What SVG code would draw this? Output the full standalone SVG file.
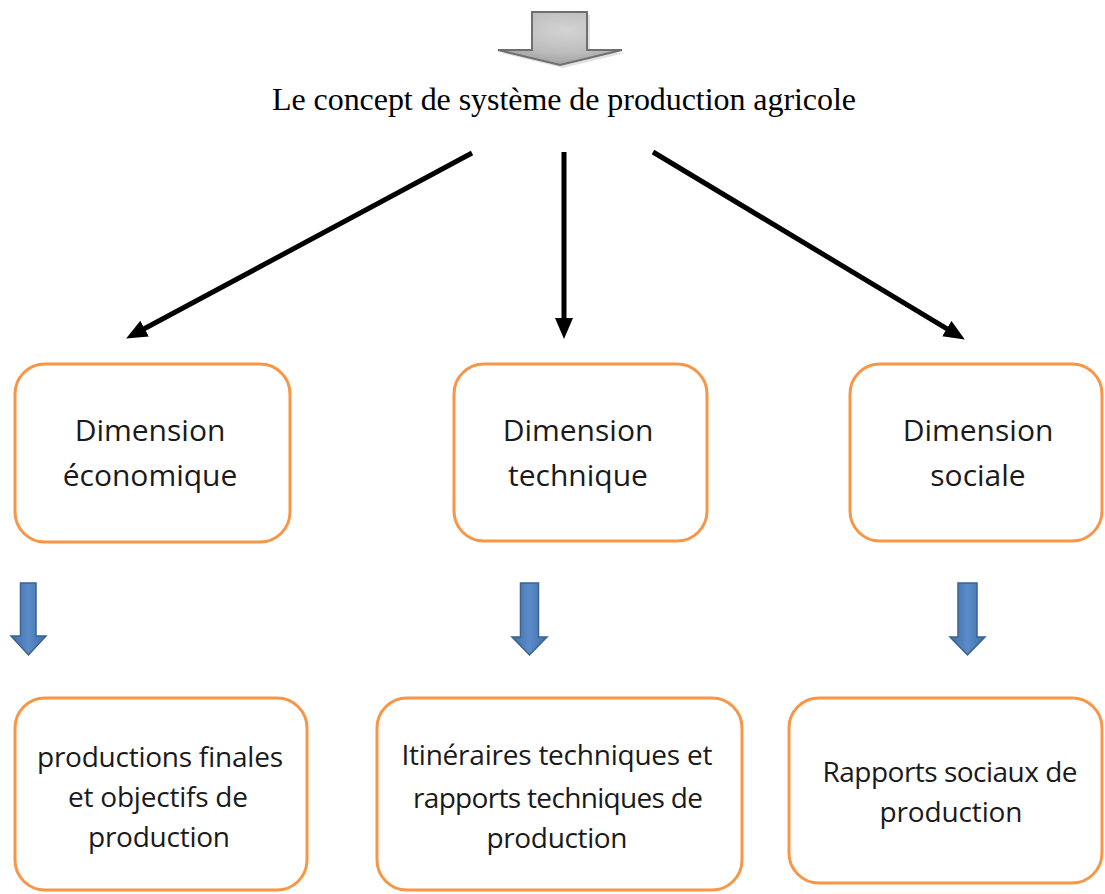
<svg xmlns="http://www.w3.org/2000/svg" width="1105" height="894" viewBox="0 0 1105 894">
<defs>
<style>
.box{fill:#fff;stroke:#F79646;stroke-width:3}
.t{font-family:"Open Sans","Liberation Sans",sans-serif;font-size:30px;fill:#1a1a1a;text-anchor:middle}
.s{font-size:28px}
.title{font-family:"Liberation Serif","Times New Roman",serif;font-size:32px;fill:#000;text-anchor:middle}
.con{stroke:#000;stroke-width:5;fill:none;marker-end:url(#ah)}
.blue{fill:url(#bg);stroke:#3A6293;stroke-width:1.5}
</style>
<marker id="ah" markerUnits="userSpaceOnUse" markerWidth="22" markerHeight="20" refX="10" refY="9" orient="auto">
<path d="M0,0 L21,9 L0,18 z" fill="#000"/>
</marker>
<linearGradient id="bg" x1="0" y1="0" x2="1" y2="0">
<stop offset="0" stop-color="#3F6EA6"/>
<stop offset="0.5" stop-color="#5B8BC9"/>
<stop offset="1" stop-color="#3F6EA6"/>
</linearGradient>
<radialGradient id="gg" cx="0.55" cy="0.35" r="0.7">
<stop offset="0" stop-color="#d4d4d4"/>
<stop offset="0.6" stop-color="#bdbdbd"/>
<stop offset="1" stop-color="#9a9a9a"/>
</radialGradient>
</defs>
<rect width="1105" height="894" fill="#fff"/>
<g id="top-arrow">
<polygon points="535,15 590,15 590,53 625,53 563,68 501,53 535,53" fill="#cfcfcf" opacity="0.6"/>
<polygon points="532,12 587,12 587,50 622,50 560,65 498,50 532,50" fill="url(#gg)" stroke="#6f6f6f" stroke-width="2"/>
</g>
<g id="title">
<text class="title" x="564" y="110" textLength="584">Le concept de système de production agricole</text>
</g>
<g id="connectors">
<line class="con" x1="472" y1="153" x2="135.8" y2="333.3"/>
<line class="con" x1="564" y1="152" x2="564" y2="328"/>
<line class="con" x1="653" y1="152" x2="955.4" y2="333.8"/>
<polygon class="blue" points="20.5,583 36,583 36,636 46,636 28.5,655 11,636 20.5,636"/>
<polygon class="blue" points="520.5,583 538.5,583 538.5,637 547,637 529.5,655 512,637 520.5,637"/>
<polygon class="blue" points="958,583 977,583 977,637 985,637 967.5,655 950,637 958,637"/>
</g>
<g id="dim-eco">
<rect class="box" x="15" y="364" width="275" height="178" rx="30"/>
<text class="t" x="150" y="441">Dimension</text>
<text class="t" x="150" y="486">économique</text>
</g>
<g id="dim-tech">
<rect class="box" x="454" y="364" width="253" height="177" rx="30"/>
<text class="t" x="578" y="441">Dimension</text>
<text class="t" x="578" y="486">technique</text>
</g>
<g id="dim-soc">
<rect class="box" x="850" y="364" width="252" height="177" rx="30"/>
<text class="t" x="978" y="441">Dimension</text>
<text class="t" x="978" y="486">sociale</text>
</g>
<g id="prod-fin">
<rect class="box" x="15" y="698" width="292" height="192" rx="30"/>
<text class="t s" x="160" y="767" textLength="246">productions finales</text>
<text class="t s" x="158" y="807" textLength="180">et objectifs de</text>
<text class="t s" x="159" y="847" textLength="142">production</text>
</g>
<g id="itin-tech">
<rect class="box" x="377" y="698" width="365" height="192" rx="30"/>
<text class="t s" x="557" y="765" textLength="311">Itinéraires techniques et</text>
<text class="t s" x="558" y="808" textLength="290">rapports techniques de</text>
<text class="t s" x="557" y="848" textLength="141">production</text>
</g>
<g id="rap-soc">
<rect class="box" x="789" y="698" width="313" height="185" rx="30"/>
<text class="t s" x="950" y="782" textLength="255">Rapports sociaux de</text>
<text class="t s" x="951" y="822" textLength="143">production</text>
</g>
</svg>
